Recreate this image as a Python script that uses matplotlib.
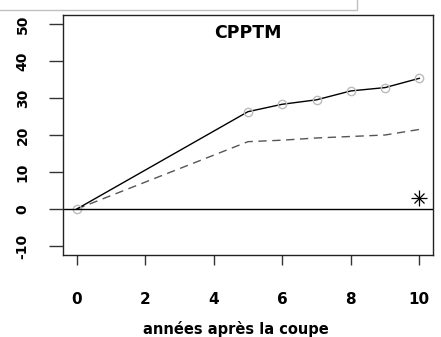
import matplotlib.pyplot as plt
from matplotlib.patches import Rectangle

# années après la coupe
annees = [0, 5, 6, 7, 8, 9, 10]
cpptm_obs = [0, 26.3, 28.3, 29.5, 31.9, 32.8, 35.3]
cpptm_mod = [0, 18.2, 18.6, 19.2, 19.6, 20.0, 21.5]
point_x = [10]
point_y = [3.1]

xticks = [0, 2, 4, 6, 8, 10]
yticks = [-10, 0, 10, 20, 30, 40, 50]

plt.rcParams['font.family'] = 'DejaVu Sans'

fig = plt.figure(figsize=(4.41, 3.37), dpi=100)
ax = fig.add_axes([63/441, 1 - 255/337, 370/441, 240/337])

ax.plot(annees, cpptm_mod, color='#555555', lw=1.0, ls=(0, (6, 4)))
ax.plot(annees, cpptm_obs, color='black', lw=1.0)
ax.plot(annees, cpptm_obs, ls='none', marker='o', ms=6, mfc='none',
        mec='#bbbbbb', mew=1.0)
ax.axhline(0, color='black', lw=1.0)
ax.plot(point_x, point_y, ls='none', marker='+', ms=11, mew=0.9, color='black')
ax.plot(point_x, point_y, ls='none', marker='x', ms=7.5, mew=0.9, color='black')

ax.set_xlim(-0.4, 10.4)
ax.set_ylim(-12.4, 52.4)
ax.set_xticks(xticks)
ax.set_yticks(yticks)
ax.set_xticklabels([str(v) for v in xticks], fontsize=11, fontweight='bold')
ax.set_yticklabels([str(v) for v in yticks], fontsize=10, fontweight='bold',
                   rotation=90, va='center')
ax.tick_params(axis='x', length=7, width=1, pad=20, color='#333333')
ax.tick_params(axis='y', length=10, width=1, pad=14, color='#333333')
for s in ax.spines.values():
    s.set_linewidth(1.0)
    s.set_color('#222222')

ax.text(0.5, 0.925, 'CPPTM', transform=ax.transAxes, ha='center', va='center',
        fontsize=12.5, fontweight='heavy')
fig.text(236/441, 1 - 329/337, 'années après la coupe', ha='center',
         va='center', fontsize=10.5, fontweight='bold')

# bord d'une boîte coupée en haut de la figure
fig.patches.append(Rectangle((-0.01, 1 - 10/337), 357/441 + 0.01, 0.05,
                             transform=fig.transFigure, fill=False,
                             edgecolor='#c0c0c0', lw=1.0))

fig.savefig('out.png', dpi=100)
